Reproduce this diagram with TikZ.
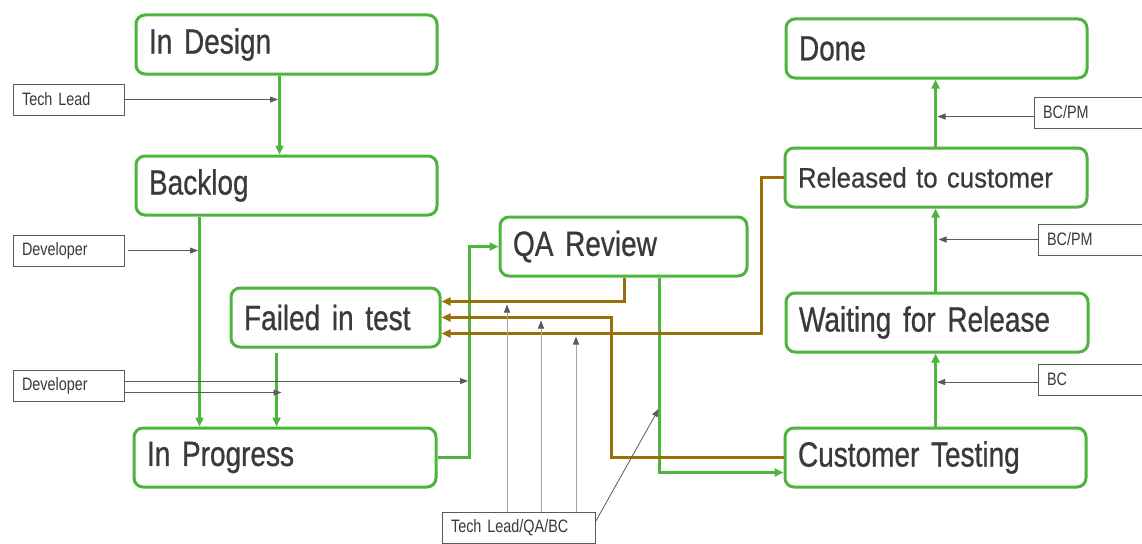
\documentclass[tikz,border=0pt]{standalone}
\usepackage{fontspec}
\newfontfamily\narrowsans{Liberation Sans}[FakeStretch=0.8,FakeBold=0.7]
\newfontfamily\plainsans{Liberation Sans}[FakeStretch=0.92,FakeBold=0.5]
\newfontfamily\rolesans{Liberation Sans}[FakeStretch=0.8]
\usetikzlibrary{arrows.meta}

\newcommand\stagefont{\narrowsans\fontsize{35}{40}\selectfont\spaceskip=6pt\relax}
\newcommand\smallstagefont{\plainsans\fontsize{28}{32}\selectfont}
\newcommand\rolefont{\rolesans\fontsize{18}{20}\selectfont\spaceskip=3pt\relax}

\definecolor{flowgreen}{RGB}{77,181,61}
\definecolor{rejectbrown}{RGB}{152,112,8}
\definecolor{labelgray}{RGB}{58,58,58}
\definecolor{rolegray}{RGB}{90,90,90}

\tikzset{
  stage/.style={draw=flowgreen, line width=3pt, rounded corners=9pt, fill=white,
    anchor=north west, minimum height=59pt, inner xsep=13pt, inner ysep=0pt,
    align=left, text=labelgray, font=\stagefont},
  role/.style={draw=rolegray, line width=1.1pt, fill=white, anchor=north west,
    minimum height=31pt, inner xsep=9pt, inner ysep=0pt,
    align=left, text=labelgray, font=\rolefont},
  flow/.style={draw=flowgreen, line width=3pt, -{Triangle[length=9pt,width=8pt]}},
  reject/.style={draw=rejectbrown, line width=3pt, -{Triangle[length=9pt,width=8pt]}},
  assign/.style={draw=rolegray, line width=0.8pt, -{Triangle[length=8pt,width=6pt]}, shorten >=1.5pt},
  review/.style={draw=black!35, line width=0.8pt, -{Triangle[length=8pt,width=6pt,color=rolegray]}, shorten >=3pt},
}

\begin{document}
\begin{tikzpicture}[x=1pt,y=-1pt]
  \useasboundingbox (0,0) rectangle (1142,543);
  \clip (0,0) rectangle (1142,543);
  \fill[white] (0,0) rectangle (1142,543);

  % workflow states
  \node[stage, text width=275pt] (design)   at (134.5,13.5)  {In Design};
  \node[stage, text width=275pt] (backlog)  at (134.5,154.5) {Backlog};
  \node[stage, text width=183pt] (failed)   at (229.5,286.5) {Failed in test};
  \node[stage, text width=276pt] (progress) at (132.5,426.5) {In Progress};
  \node[stage, text width=221pt] (qa)       at (498.5,215.5) {QA Review};
  \node[stage, text width=275pt] (done)     at (784.5,17.5)  {Done};
  \node[stage, text width=276pt, font=\smallstagefont] (released) at (783.5,146.5) {Released to customer};
  \node[stage, text width=276pt] (waiting)  at (784.5,291.5) {Waiting for Release};
  \node[stage, text width=275pt] (testing)  at (783.5,426.5) {Customer Testing};

  % who moves the ticket
  \node[role, text width=93pt]  (tl)   at (12.5,83.5)    {Tech Lead};
  \node[role, text width=93pt]  (dev1) at (12.5,234.5)   {Developer};
  \node[role, text width=93pt]  (dev2) at (12.5,369.5)   {Developer};
  \node[role, text width=135pt] (tqb)  at (441.5,511.5)  {Tech Lead/QA/BC};
  \node[role, text width=112pt] (pm1)  at (1033.5,96.5)  {BC/PM};
  \node[role, text width=112pt] (pm2)  at (1037.5,223.5) {BC/PM};
  \node[role, text width=112pt] (bc)   at (1037.5,363.5) {BC};

  % where the green lines leave their boxes
  \coordinate (designdrop)  at ([xshift=-7pt]design.south);
  \coordinate (backlogdrop) at ([xshift=-87pt]backlog.south);
  \coordinate (faileddrop)  at ([xshift=-59pt,yshift=-4.5pt]failed.south);
  \coordinate (progressup)  at ([xshift=32pt]progress.east);
  \coordinate (qadrop)      at ([xshift=36pt]qa.south);
  \coordinate (qaback)      at ([xshift=1pt]qa.south);
  \coordinate (rej1) at ([yshift=16pt]failed.east);
  \coordinate (rej2) at (failed.east);
  \coordinate (rej3) at ([yshift=-16pt]failed.east);

  % forward moves
  \draw[flow] (designdrop) -- (designdrop |- backlog.north);
  \draw[flow] (backlogdrop) -- (backlogdrop |- progress.north);
  \draw[flow] (faileddrop) -- (faileddrop |- progress.north);
  \draw[flow] (progress.east) -- (progressup) |- (qa.west);
  \draw[flow] (qadrop) |- ([yshift=-15pt]testing.west);
  \draw[flow] (testing.north) -- (testing.north |- waiting.south);
  \draw[flow] (waiting.north -| testing.north) -- (testing.north |- released.south);
  \draw[flow] (released.north -| testing.north) -- (testing.north |- done.south);

  % sent back to failed
  \draw[reject] (qaback) |- (rej1);
  \draw[reject] (testing.west) -- ++(-172,0) |- (rej2);
  \draw[reject] (released.west) -- ++(-22,0) |- (rej3);

  % role arrows
  \draw[assign] (tl.east) -- (tl.east -| designdrop);
  \draw[assign] ([xshift=3pt]dev1.east) -- (dev1.east -| backlogdrop);
  \coordinate (dev2a) at ([yshift=4.5pt]dev2.east);
  \coordinate (dev2b) at ([yshift=-7pt]dev2.east);
  \draw[assign] (dev2a) -- (dev2a -| progressup);
  \draw[assign, shorten >=-5pt] (dev2b) -- (dev2b -| faileddrop);
  \draw[assign] ([yshift=-4pt]pm1.west) -- ([yshift=-4pt]pm1.west -| released.north);
  \draw[assign] (pm2.west) -- (pm2.west -| waiting.north);
  \draw[assign] ([yshift=-2.5pt]bc.west) -- ([yshift=-2.5pt]bc.west -| testing.north);

  \coordinate (tqb1) at ([xshift=65.5pt]tqb.north west);
  \coordinate (tqb2) at ([xshift=99.5pt]tqb.north west);
  \coordinate (tqb3) at ([xshift=134.5pt]tqb.north west);
  \draw[review] (tqb1) -- (tqb1 |- rej1);
  \draw[review] (tqb2) -- (tqb2 |- rej2);
  \draw[review] (tqb3) -- (tqb3 |- rej3);
  \draw[assign] ([yshift=-10pt]tqb.north east) -- ([yshift=-130pt]qadrop);
\end{tikzpicture}
\end{document}
